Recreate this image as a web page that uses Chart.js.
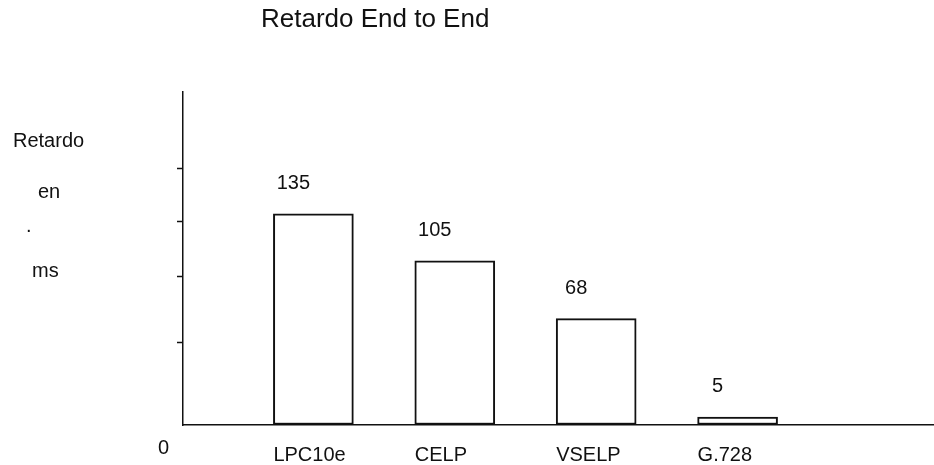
<!DOCTYPE html>
<html>
<head>
<meta charset="utf-8">
<script src="https://cdn.jsdelivr.net/npm/chart.js@4"></script>
<style>
  body { margin: 0; background: #fff; }
  #wrap { width: 934px; height: 465px; position: relative; }
</style>
</head>
<body>
<div id="wrap"><canvas id="retardo-chart"></canvas></div>
<script>
const codecs = ["LPC10e", "CELP", "VSELP", "G.728"];
const retardo = [135, 105, 68, 5];
const yTickValues = [0, 53, 95, 130, 164];
const yTickLabel = "0";
const titleText = "Retardo End to End";
const yTitleLines = ["Retardo", "en", ".", "ms"];

const ink = '#111';
const font = 'Arial, "Liberation Sans", sans-serif';

// titulo y rotulo del eje y, dibujados a mano (no rotados)
const textPlugin = {
  id: 'textos',
  afterDraw(chart) {
    const ctx = chart.ctx;
    ctx.save();
    ctx.fillStyle = ink;
    ctx.textAlign = 'left';
    ctx.textBaseline = 'alphabetic';
    ctx.font = '26px ' + font;
    ctx.fillText(titleText, 261, 27);
    ctx.font = '20px ' + font;
    const pos = [[13, 147], [38, 198], [26, 232], [32, 277]];
    yTitleLines.forEach((t, i) => ctx.fillText(t, pos[i][0], pos[i][1]));
    ctx.restore();
  }
};

// valores encima de cada barra
const valuePlugin = {
  id: 'valores',
  afterDatasetsDraw(chart) {
    const ctx = chart.ctx;
    const meta = chart.getDatasetMeta(0);
    ctx.save();
    ctx.fillStyle = ink;
    ctx.font = '20px ' + font;
    ctx.textAlign = 'center';
    ctx.textBaseline = 'alphabetic';
    meta.data.forEach((bar, i) => {
      ctx.fillText(String(retardo[i]), bar.x - 20, bar.y - 25);
    });
    ctx.restore();
  }
};

document.addEventListener("DOMContentLoaded", e => {
  const data = {
    datasets: [{
      label: 'Retardo',
      data: retardo.map((v, i) => ({ x: i, y: v })),
      backgroundColor: '#fff',
      borderColor: ink,
      borderWidth: 2,
      borderSkipped: false,
      barThickness: 80
    }]
  };

  const config = {
    type: 'bar',
    data: data,
    options: {
      responsive: true,
      maintainAspectRatio: false,
      animation: false,
      layout: { padding: { top: 92, right: 0, bottom: 0, left: 0 } },
      plugins: {
        legend: { display: false },
        title: { display: false },
        tooltip: { enabled: false }
      },
      scales: {
        x: {
          type: 'linear',
          offset: false,
          min: -0.922,
          max: 4.389,
          afterBuildTicks: axis => {
            axis.ticks = codecs.map((c, i) => ({ value: i }));
          },
          afterFit: scale => { scale.height = 40; },
          grid: { display: false, drawTicks: false },
          border: { display: true, color: ink, width: 1.5 },
          ticks: {
            autoSkip: false,
            maxRotation: 0,
            align: 'start',
            labelOffset: -40,
            padding: 18,
            color: ink,
            font: { family: font, size: 20 },
            callback: value => codecs[value]
          }
        },
        y: {
          min: 0,
          max: 213,
          afterBuildTicks: axis => {
            axis.ticks = yTickValues.map(v => ({ value: v }));
          },
          afterFit: scale => { scale.width = 183; },
          grid: {
            display: true,
            drawOnChartArea: false,
            drawTicks: true,
            tickLength: 6,
            tickWidth: 1.5,
            tickColor: c => (c.tick && c.tick.value === 0) ? 'rgba(0,0,0,0)' : ink
          },
          border: { display: true, color: ink, width: 1.5 },
          ticks: {
            autoSkip: false,
            padding: 8,
            labelOffset: 23,
            color: ink,
            font: { family: font, size: 20 },
            callback: value => value === 0 ? yTickLabel : ''
          }
        }
      }
    },
    plugins: [textPlugin, valuePlugin]
  };

  const myChart = new Chart(document.getElementById('retardo-chart'), config);
});
</script>
</body>
</html>
